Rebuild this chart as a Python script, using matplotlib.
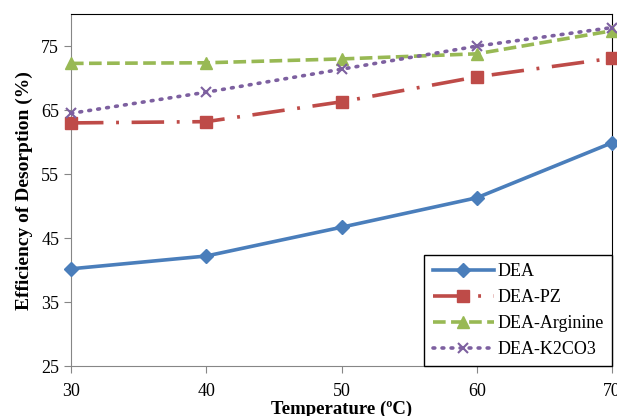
import numpy as np
from matplotlib import pyplot as plt

temperature = [30, 40, 50, 60, 70]
dea = [40.2, 42.2, 46.7, 51.3, 59.9]
dea_pz = [63.0, 63.2, 66.3, 70.2, 73.1]
dea_arginine = [72.3, 72.4, 73.0, 73.8, 77.4]
dea_k2co3 = [64.5, 67.8, 71.4, 75.0, 77.9]

series = [
    ('DEA', dea, '#4A7EBB', '-', 'D', 7),
    ('DEA-PZ', dea_pz, '#BE4B48', (0, (9, 3.5, 0.8, 3.5)), 's', 8),
    ('DEA-Arginine', dea_arginine, '#98B954', (0, (3.5, 1.5)), '^', 8),
    ('DEA-K2CO3', dea_k2co3, '#7D60A0', (0, (0.5, 2.0)), 'x', 7),
]

plt.rcParams['font.family'] = ['Liberation Serif', 'DejaVu Serif']

fig = plt.figure(figsize=(6.17, 4.16), dpi=100)
ax = fig.add_axes([0.115, 0.12, 0.877, 0.846])

for name, vals, color, ls, mk, ms in series:
    ax.plot(temperature, vals, color=color, linestyle=ls, linewidth=2.6,
            marker=mk, markersize=ms, markeredgewidth=1.5 if mk == 'x' else 1,
            dash_capstyle='round' if mk == 'x' else 'butt',
            label=name, clip_on=False, zorder=3)

ax.set_xlim(30, 70)
ax.set_ylim(25, 80)
ax.set_xticks([30, 40, 50, 60, 70])
ax.set_yticks([25, 35, 45, 55, 65, 75])
ax.tick_params(labelsize=13, length=5, color='#868686', direction='out')
ax.tick_params(axis='x', pad=7)

for side in ['left', 'bottom']:
    ax.spines[side].set_color('#868686')
for side in ['top', 'right']:
    ax.spines[side].set_color('black')

ax.set_xlabel('Temperature (ºC)', fontsize=13.5, fontweight='bold', labelpad=1)
ax.set_ylabel('Efficiency of Desorption (%)', fontsize=14, fontweight='bold', labelpad=6)

leg = ax.legend(loc='lower right', bbox_to_anchor=(1.0, 0.0), fontsize=13,
                fancybox=False, edgecolor='black', framealpha=1,
                handlelength=3.4, handletextpad=0.2, borderpad=0.45,
                labelspacing=0.5, borderaxespad=0.0)
leg.get_frame().set_linewidth(1.0)

fig.savefig('out.png', dpi=100)
